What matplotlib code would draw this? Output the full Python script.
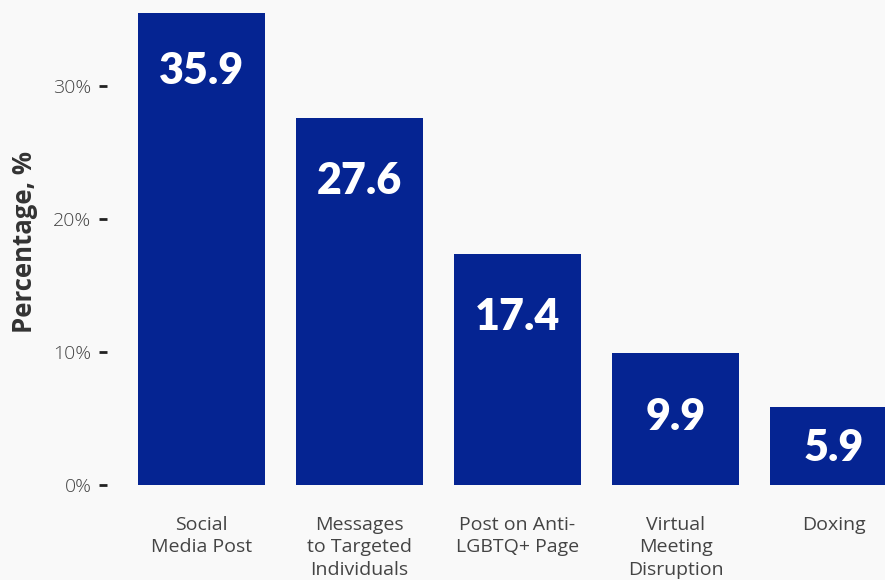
import matplotlib.pyplot as plt
from matplotlib.ticker import FuncFormatter

# data
categories = ["Social\nMedia Post", "Messages\nto Targeted\nIndividuals",
              "Post on Anti-\nLGBTQ+ Page", "Virtual\nMeeting\nDisruption", "Doxing"]
values = [35.9, 27.6, 17.4, 9.9, 5.9]
yticks = [0, 10, 20, 30]

bar_color = "#052492"
bg = "#f9f9f9"
txt_font = ["Open Sans", "DejaVu Sans"]

fig = plt.figure(figsize=(8.85, 5.8), dpi=100, facecolor=bg)
ax = fig.add_axes([0.1206, 0.1638, 0.8794, 0.8138], facecolor=bg)

x = list(range(len(values)))
ax.bar(x, values, width=0.8, color=bar_color)

# value labels inside bars
for xi, v in zip(x, values):
    ax.text(xi, max(v - 4.75, 2.8), f"{v:.1f}", ha="center", va="center",
            color="white", fontsize=31, fontweight="heavy", family=["Lato", "DejaVu Sans"])

ax.set_xlim(-0.6, 4.326)
ax.set_ylim(0, 35.49)
ax.set_yticks(yticks)
ax.yaxis.set_major_formatter(FuncFormatter(lambda v, p: f"{v:.0f}%"))
ax.set_xticks(x)
ax.set_xticklabels(categories, linespacing=1.32)

for s in ax.spines.values():
    s.set_visible(False)

ax.tick_params(axis="y", length=6, width=2, color="#222222", pad=5,
               labelsize=14, labelcolor="#444444")
ax.tick_params(axis="x", length=0, pad=22, labelsize=14, labelcolor="#444444")
for lab in ax.get_xticklabels() + ax.get_yticklabels():
    lab.set_family(txt_font)
for lab in ax.get_yticklabels():
    lab.set_fontweight("light")

ax.set_ylabel("Percentage, %", fontsize=18.5, fontweight="bold", color="#333333",
              family=txt_font)
ax.yaxis.set_label_coords(-0.088, 0.515)

fig.savefig("out.png", dpi=100, facecolor=bg)
